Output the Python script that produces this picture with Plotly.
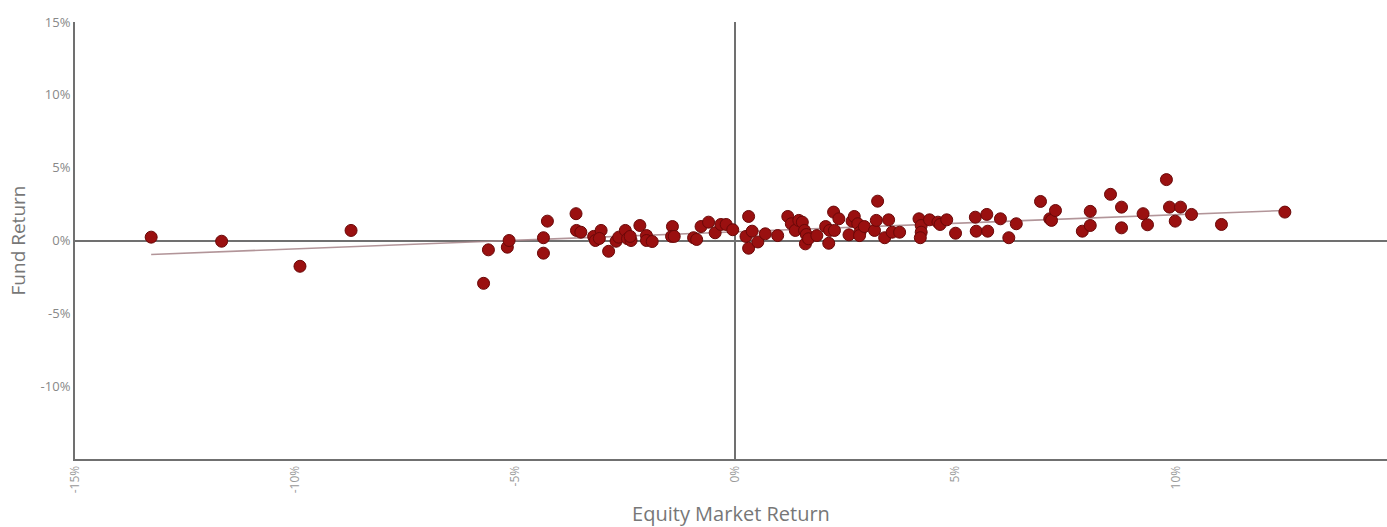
import plotly.graph_objects as go

equity_return = [
    -13.27, -11.67, -9.89, -8.73, -5.72, -5.61, -5.18, -5.14, -4.36, -4.36,
    -4.27, -3.62, -3.61, -3.51, -3.22, -3.18, -3.05, -3.09, -2.88, -2.71,
    -2.65, -2.50, -2.45, -2.37, -2.39, -2.17, -2.02, -2.02, -1.89, -1.43,
    -1.45, -1.39, -0.95, -0.88, -0.78, -0.61, -0.46, -0.33, -0.21, -0.06,
    0.24, 0.30, 0.38, 0.30, 0.51, 0.68, 0.96, 1.19, 1.27, 1.36,
    1.44, 1.52, 1.57, 1.61, 1.59, 1.66, 1.85, 2.05, 2.14, 2.12,
    2.23, 2.25, 2.35, 2.58, 2.65, 2.70, 2.78, 2.83, 2.82, 2.93,
    3.16, 3.20, 3.23, 3.39, 3.48, 3.56, 3.73, 4.17, 4.22, 4.22,
    4.20, 4.41, 4.60, 4.65, 4.80, 5.00, 5.45, 5.47, 5.71, 5.73,
    6.02, 6.21, 6.38, 6.93, 7.14, 7.18, 7.27, 7.88, 8.06, 8.06,
    8.52, 8.77, 8.77, 9.26, 9.36, 9.79, 9.86, 9.99, 10.11, 10.36,
    11.04, 12.48,
]
fund_return = [
    0.23, -0.05, -1.77, 0.69, -2.94, -0.64, -0.46, 0.00, 0.19, -0.87,
    1.33, 1.84, 0.69, 0.57, 0.28, 0.00, 0.69, 0.14, -0.74, -0.05,
    0.23, 0.69, 0.12, 0.00, 0.28, 1.03, 0.34, 0.00, -0.07, 0.96,
    0.28, 0.28, 0.19, 0.07, 0.96, 1.26, 0.53, 1.10, 1.10, 0.74,
    0.28, 1.65, 0.64, -0.53, -0.10, 0.46, 0.34, 1.65, 1.15, 0.69,
    1.38, 1.26, 0.69, 0.41, -0.23, 0.12, 0.34, 0.96, 0.69, -0.19,
    1.95, 0.69, 1.49, 0.39, 1.33, 1.65, 1.15, 0.57, 0.34, 0.96,
    0.69, 1.38, 2.70, 0.19, 1.42, 0.57, 0.57, 1.49, 1.03, 0.57,
    0.19, 1.42, 1.26, 1.10, 1.42, 0.50, 1.60, 0.64, 1.79, 0.64,
    1.49, 0.19, 1.15, 2.68, 1.49, 1.38, 2.06, 0.64, 2.00, 1.03,
    3.17, 2.29, 0.87, 1.84, 1.08, 4.18, 2.29, 1.33, 2.29, 1.79,
    1.10, 1.95,
]

trend_x = [-13.27, 12.48]
trend_y = [-0.96, 2.06]

x_tick_vals = [-15, -10, -5, 0, 5, 10]
x_tick_text = ["-15%", "-10%", "-5%", "0%", "5%", "10%"]
y_tick_vals = [-10, -5, 0, 5, 10, 15]
y_tick_text = ["-10%", "-5%", "0%", "5%", "10%", "15%"]

fig = go.Figure()
fig.add_trace(go.Scatter(
    x=trend_x, y=trend_y, mode="lines",
    line=dict(color="rgba(165,130,135,0.85)", width=1.6),
    hoverinfo="skip", showlegend=False,
))
fig.add_trace(go.Scatter(
    x=equity_return, y=fund_return, mode="markers",
    marker=dict(size=12, color="#9a1010", line=dict(color="#6a0808", width=1)),
    showlegend=False,
))

fig.update_layout(
    width=1387, height=527,
    margin=dict(l=75, r=0, t=22, b=68),
    plot_bgcolor="white", paper_bgcolor="white",
    font=dict(family="Open Sans, DejaVu Sans, sans-serif", color="#888"),
    xaxis=dict(
        range=[-15, 14.8],
        tickvals=x_tick_vals, ticktext=x_tick_text, tickangle=-90,
        tickfont=dict(size=12, color="#999"),
        showgrid=False, zeroline=True, zerolinecolor="#707070", zerolinewidth=2,
        showline=True, linecolor="#707070", linewidth=2,
        ticks="", automargin=False,
        title=dict(text="Equity Market Return", font=dict(size=20, color="#777"), standoff=18),
    ),
    yaxis=dict(
        range=[-15, 15],
        tickvals=y_tick_vals, ticktext=y_tick_text,
        tickfont=dict(size=13, color="#888"),
        showgrid=False, zeroline=True, zerolinecolor="#707070", zerolinewidth=2,
        showline=True, linecolor="#707070", linewidth=2,
        ticks="", automargin=False,
        title=dict(text="Fund Return", font=dict(size=19, color="#777"), standoff=10),
    ),
)

fig.write_html(
    "out.html",
    config={"displayModeBar": False},
    post_script="document.body.style.margin='0';document.body.style.overflow='hidden';",
)
